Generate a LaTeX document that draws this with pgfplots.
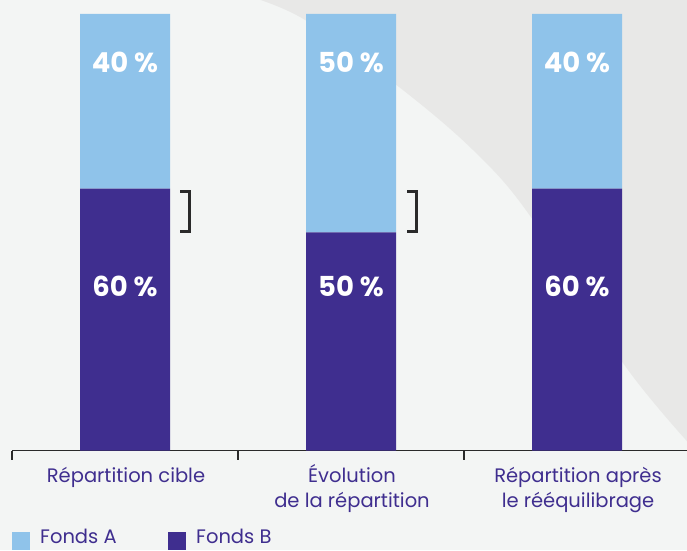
\documentclass[border=0pt]{standalone}
\usepackage{pgfplots}
\pgfplotsset{compat=1.18}
\usepackage{fontspec}
\setmainfont{Poppins}
\definecolor{bgA}{HTML}{F3F5F4}
\definecolor{bgB}{HTML}{E8E8E7}
\definecolor{fondA}{HTML}{8FC3EA}
\definecolor{fondB}{HTML}{3F2E8F}
\definecolor{axisc}{HTML}{2A2A2A}
\begin{document}
\begin{tikzpicture}
\useasboundingbox (0pt,0pt) rectangle (687pt,550pt);
\clip (0pt,0pt) rectangle (687pt,550pt);
\begin{scope}[x=1pt,y=1pt]
\fill[bgA] (0,0) rectangle (687,550);
\fill[bgB] plot[smooth, tension=0.6] coordinates {(235,558) (300,533) (390,470) (473,400) (533,330) (623,187) (695,100)} -- (695,558) -- cycle;
\end{scope}
\begin{axis}[
  at={(12pt,99.5pt)}, anchor=south west,
  scale only axis, width=675pt, height=436.5pt,
  xmin=-0.5, xmax=2.4867, ymin=0, ymax=100,
  ybar stacked, bar width=90pt,
  axis y line=none, axis x line*=bottom,
  x axis line style={-, line width=1.5pt, color=axisc},
  xtick={-0.5,0.5,1.5}, xticklabels={},
  tick align=outside, major tick length=9pt,
  xtick style={line width=1.5pt, color=axisc},
  ytick=\empty,
  clip=false,
]
\addplot[fill=fondB, draw=none] coordinates {(0,60) (1,50) (2,60)};
\addplot[fill=fondA, draw=none] coordinates {(0,40) (1,50) (2,40)};
\coordinate (a0) at (axis cs:0,89);
\coordinate (a1) at (axis cs:1,89);
\coordinate (a2) at (axis cs:2,89);
\coordinate (b0) at (axis cs:0,37.5);
\coordinate (b1) at (axis cs:1,37.5);
\coordinate (b2) at (axis cs:2,37.5);
\end{axis}
\begin{scope}[every node/.style={font=\bfseries\fontsize{27.5}{30}\selectfont, text=white}]
\node at (a0) {40 \%};
\node at (a1) {50 \%};
\node at (a2) {40 \%};
\node at (b0) {60 \%};
\node at (b1) {50 \%};
\node at (b2) {60 \%};
\end{scope}
\begin{scope}[x=1pt,y=1pt]
\draw[line width=3pt, color=axisc, line join=miter] (180,359) -- (189,359) -- (189,319) -- (180,319);
\draw[line width=3pt, color=axisc, line join=miter] (407,359) -- (416,359) -- (416,319) -- (407,319);
\begin{scope}[every node/.style={fondB, font=\fontsize{19.5}{22}\selectfont, anchor=base, inner sep=0pt}]
\node at (126,68) {Répartition cible};
\node at (352,68) {Évolution};
\node at (352,43) {de la répartition};
\node at (578,68) {Répartition après};
\node at (578,43) {le rééquilibrage};
\node[anchor=base west] at (40,6.5) {Fonds A};
\node[anchor=base west] at (196,6.5) {Fonds B};
\end{scope}
\fill[fondA] (12,0) rectangle (30,18);
\fill[fondB] (168,0) rectangle (186,18);
\end{scope}
\end{tikzpicture}
\end{document}
